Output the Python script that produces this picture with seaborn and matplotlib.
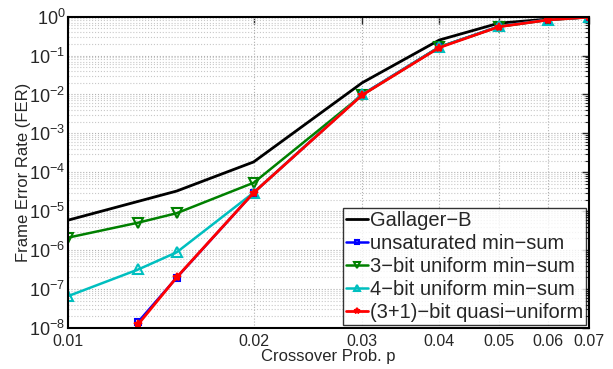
import numpy as np
import pandas as pd
import matplotlib
matplotlib.use("Agg")
import matplotlib.pyplot as plt
import seaborn as sns
from matplotlib.ticker import FixedLocator, FixedFormatter, LogLocator, NullFormatter

# crossover probabilities
p_gallager = [0.01, 0.015, 0.02, 0.03, 0.04, 0.05, 0.06, 0.07]
p_unsat = [0.013, 0.015, 0.02, 0.03, 0.04, 0.05, 0.06, 0.07]
p_3bit = [0.01, 0.013, 0.015, 0.02, 0.03, 0.04, 0.05, 0.06, 0.07]
p_4bit = [0.01, 0.013, 0.015, 0.02, 0.03, 0.04, 0.05, 0.06, 0.07]
p_quasi = [0.013, 0.015, 0.02, 0.03, 0.04, 0.05, 0.06, 0.07]

# frame error rates
fer_gallager = [5.9e-6, 3.3e-5, 1.85e-4, 2.0e-2, 0.25, 0.68, 0.86, 0.97]
fer_unsat = [1.45e-8, 1.96e-7, 3.0e-5, 1.0e-2, 0.165, 0.56, 0.83, 0.97]
fer_3bit = [2.1e-6, 5.1e-6, 8.9e-6, 5.4e-5, 9.7e-3, 0.165, 0.55, 0.82, 0.97]
fer_4bit = [6.6e-8, 3.2e-7, 8.8e-7, 3.0e-5, 1.0e-2, 0.165, 0.56, 0.83, 0.97]
fer_quasi = [1.26e-8, 2.0e-7, 3.0e-5, 9.7e-3, 0.16, 0.55, 0.82, 0.97]

labels = ["Gallager\u2212B", "unsaturated min\u2212sum", "3\u2212bit uniform min\u2212sum",
          "4\u2212bit uniform min\u2212sum", "(3+1)\u2212bit quasi\u2212uniform"]
xticks = [0.01, 0.02, 0.03, 0.04, 0.05, 0.06, 0.07]
xtick_labels = ["0.01", "0.02", "0.03", "0.04", "0.05", "0.06", "0.07"]

series = [
    (p_gallager, fer_gallager, "black", None, 2.0, 6),
    (p_unsat, fer_unsat, "#0000ff", "s", 1.8, 5),
    (p_3bit, fer_3bit, "#008000", "v", 1.8, 7),
    (p_4bit, fer_4bit, "#00bfbf", "^", 1.8, 7),
    (p_quasi, fer_quasi, "#ff0000", "*", 2.0, 6),
]

frames = []
for (x, y, c, m, lw, ms), lab in zip(series, labels):
    frames.append(pd.DataFrame({"p": x, "fer": y, "scheme": lab}))
df = pd.concat(frames, ignore_index=True)

sns.set_style("white")
plt.rcParams["font.family"] = ["Liberation Sans", "DejaVu Sans"]
plt.rcParams["mathtext.fontset"] = "custom"
plt.rcParams["mathtext.rm"] = "Liberation Sans"

fig, ax = plt.subplots(figsize=(6.13, 3.69), dpi=100)
fig.subplots_adjust(left=0.111, right=0.961, top=0.955, bottom=0.111)

for (x, y, c, m, lw, ms), lab in zip(series, labels):
    sub = df[df["scheme"] == lab]
    sns.lineplot(data=sub, x="p", y="fer", ax=ax, color=c, linewidth=lw,
                 marker=m, markersize=ms, markerfacecolor="none" if m not in (None, "*") else c,
                 markeredgecolor=c, markeredgewidth=1.5, label=lab, sort=False)

ax.set_xscale("log")
ax.set_yscale("log")
ax.set_xlim(0.01, 0.07)
ax.set_ylim(1e-8, 1)

ax.xaxis.set_major_locator(FixedLocator(xticks))
ax.xaxis.set_major_formatter(FixedFormatter(xtick_labels))
ax.xaxis.set_minor_locator(FixedLocator([]))
ax.yaxis.set_major_locator(LogLocator(base=10, numticks=20))
ax.yaxis.set_minor_locator(LogLocator(base=10, subs=np.arange(2, 10), numticks=20))
ax.yaxis.set_minor_formatter(NullFormatter())

ax.grid(True, which="major", axis="both", linestyle=":", color="#b0b0b0", linewidth=0.8)
ax.grid(True, which="minor", axis="y", linestyle=":", color="#c8c8c8", linewidth=0.8)

ax.tick_params(which="both", direction="in", top=True, right=True)
ax.tick_params(axis="x", labelsize=11.5, pad=4)
ax.tick_params(axis="y", labelsize=13, pad=2)
ax.tick_params(which="major", length=5, width=1)
ax.tick_params(which="minor", length=3, width=0.8)
for s in ax.spines.values():
    s.set_color("black")
    s.set_linewidth(1.5)

ax.set_xlabel("Crossover Prob. p", fontsize=12, labelpad=0)
ax.set_ylabel("Frame Error Rate (FER)", fontsize=12, labelpad=-1)

leg = ax.legend(loc="lower right", fontsize=14.5, frameon=True, fancybox=False,
                borderpad=0.15, labelspacing=0.2, handlelength=1.1, handletextpad=0.1,
                borderaxespad=0.15, markerscale=0.7)
leg.get_frame().set_edgecolor("black")
leg.get_frame().set_linewidth(1.0)

fig.savefig("out.png", dpi=100)
